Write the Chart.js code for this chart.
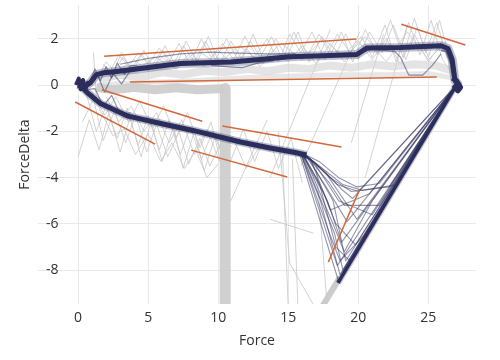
<!DOCTYPE html>
<html>
<head>
<meta charset="utf-8">
<title>Force vs ForceDelta</title>
<script src="https://cdn.jsdelivr.net/npm/chart.js"></script>
<style>
  html, body { margin: 0; padding: 0; background: #fff; }
  #wrap { width: 500px; height: 360px; }
</style>
</head>
<body>
<div id="wrap"><canvas id="chart"></canvas></div>
<script>
// tick labels
var xTicks = [0, 5, 10, 15, 20, 25];
var yTicks = [-8, -6, -4, -2, 0, 2];

// dark loop: main branches
var upperX = [0.6, 0.9, 1.3, 1.8, 2.6, 4.6, 7.3, 10.9, 13.0, 15.1, 17.5, 19.9, 20.6, 23.0, 25.9, 26.4, 26.7, 26.9, 27.2];
var upperY = [0.0, 0.12, 0.45, 0.53, 0.58, 0.73, 0.93, 1.0, 1.1, 1.22, 1.27, 1.32, 1.6, 1.62, 1.7, 1.58, 1.1, 0.2, -0.05];
var lowerX = [0.0, 0.3, 0.7, 1.6, 3.5, 5.9, 8.2, 11.6, 13.7, 15.4, 16.3];
var lowerY = [0.0, -0.1, -0.35, -0.8, -1.33, -1.66, -1.96, -2.46, -2.72, -2.9, -3.02];
var returnX = [18.55, 27.0];
var returnY = [-8.55, 0.0];
var originX = [-0.15, 0.05, 0.2, 0.35, 0.5, 0.7, 0.9];
var originY = [0.0, 0.28, -0.18, 0.22, -0.22, 0.1, 0.0];
var apexX = [26.7, 27.0, 27.3, 27.1, 26.8];
var apexY = [0.3, 0.2, -0.1, -0.25, 0.0];

// dark loop: single thin traces
var aboveX = [3.0, 5.0, 7.3, 9.4, 11.5, 13.5, 15.5];
var aboveY = [0.9, 1.15, 1.35, 1.42, 1.38, 1.35, 1.35];
var dipX = [19.5, 21.0, 22.6, 23.0, 23.6, 24.6, 25.3, 25.9];
var dipY = [1.3, 1.55, 1.45, 1.21, 0.43, 0.43, 0.86, 1.35];
var belowX = [9.5, 10.5, 11.7, 12.8, 14.0];
var belowY = [0.85, 0.8, 0.75, 0.95, 1.05];
var jag1X = [0.8, 1.2, 1.6, 2.0, 2.4, 2.8, 3.3, 3.8, 4.5];
var jag1Y = [0.1, 0.7, 0.2, 0.8, 0.3, 0.95, 0.45, 0.85, 0.8];
var jag2X = [0.9, 1.4, 1.9, 2.5, 3.1, 3.7, 4.3];
var jag2Y = [0.0, 0.4, -0.3, 0.5, 0.05, 0.6, 0.65];
var jag3X = [0.6, 1.2, 1.8, 2.4, 3.0, 3.8];
var jag3Y = [-0.2, -0.15, -0.9, -0.45, -1.25, -1.2];
var dropX = [25.9, 26.3, 26.6, 26.8, 27.1];
var dropY = [1.5, 1.45, 0.9, 0.2, 0.0];

// dark loop: fan below Force 16
var fan1X = [15.4, 16.2, 17.2, 18.6, 19.9, 21.5, 27.0];
var fan1Y = [-2.9, -3.0, -3.3, -4.0, -4.4, -4.25, 0.0];
var fan2X = [15.4, 16.3, 17.4, 18.8, 19.6, 27.0];
var fan2Y = [-2.9, -3.05, -3.6, -4.5, -4.9, 0.0];
var fan3X = [15.4, 16.2, 17.6, 19.2, 27.0];
var fan3Y = [-2.9, -3.0, -4.3, -5.9, 0.0];
var fan4X = [15.4, 16.0, 17.8, 18.8, 27.0];
var fan4Y = [-2.9, -3.0, -5.0, -6.8, 0.0];
var fan5X = [15.4, 15.9, 18.5, 27.0];
var fan5Y = [-2.9, -2.95, -7.8, 0.0];
var fan6X = [15.4, 15.8, 18.6, 27.0];
var fan6Y = [-2.9, -2.95, -8.5, 0.0];
var fan7X = [15.4, 16.1, 18.2, 19.0, 21.0, 27.0];
var fan7Y = [-2.9, -3.0, -6.0, -7.2, -5.0, 0.0];
var fan8X = [15.4, 16.4, 18.0, 19.5, 22.2, 27.0];
var fan8Y = [-2.9, -3.1, -4.0, -4.6, -4.4, 0.0];
var fan9X = [15.4, 16.0, 18.3, 18.9, 27.0];
var fan9Y = [-2.9, -3.0, -6.4, -8.0, 0.0];
var fan10X = [15.4, 16.6, 18.0, 20.8, 27.0];
var fan10Y = [-2.9, -3.2, -5.4, -4.7, 0.0];
var fan11X = [15.4, 16.1, 17.5, 18.4, 19.8, 27.0];
var fan11Y = [-2.9, -3.0, -4.6, -6.0, -6.9, 0.0];
var fan12X = [15.4, 16.3, 17.9, 19.0, 21.5, 27.0];
var fan12Y = [-2.9, -3.05, -4.2, -5.2, -5.2, 0.0];
var fan13X = [15.4, 15.9, 18.0, 18.7, 20.4, 27.0];
var fan13Y = [-2.9, -2.95, -6.5, -7.6, -6.5, 0.0];
var fan14X = [15.4, 16.5, 17.8, 19.9, 27.0];
var fan14Y = [-2.9, -3.15, -3.9, -5.8, 0.0];
var fan15X = [15.4, 16.0, 17.2, 18.4, 19.4, 27.0];
var fan15Y = [-2.9, -3.0, -4.2, -7.0, -7.6, 0.0];
var fan16X = [15.4, 16.2, 17.0, 18.6, 21.0, 27.0];
var fan16Y = [-2.9, -3.0, -3.5, -5.0, -5.6, 0.0];
var fan17X = [15.4, 16.7, 18.5, 20.0, 27.0];
var fan17Y = [-2.9, -3.25, -4.3, -4.6, 0.0];
var fan18X = [15.4, 15.9, 17.3, 18.7, 22.0, 27.0];
var fan18Y = [-2.9, -2.95, -5.0, -8.2, -4.9, 0.0];
var fan19X = [15.4, 16.4, 18.2, 19.1, 27.0];
var fan19Y = [-2.9, -3.1, -5.0, -7.6, 0.0];
var fan20X = [15.4, 16.8, 18.9, 20.3, 22.8, 27.0];
var fan20Y = [-2.9, -3.3, -4.3, -4.55, -4.3, 0.0];

// grey background runs
var shelfX = [1.3, 2.5, 4.0, 5.5, 7.0, 8.5, 10.45];
var shelfY = [-0.1, -0.2, -0.1, -0.2, -0.12, -0.2, -0.15];
var columnX = [10.5, 10.5];
var columnY = [-0.15, -9.8];
var band1X = [1.5, 3, 4.5, 6, 7.5, 9, 10.5, 12, 13.5, 15, 16.5, 18, 19.5, 21, 22.5, 24, 25.5, 26.8];
var band1Y = [0.25, 0.45, 0.35, 0.55, 0.45, 0.62, 0.55, 0.7, 0.6, 0.75, 0.7, 0.85, 0.75, 0.9, 0.8, 0.9, 0.85, 0.6];
var band2X = [1.5, 4, 7, 10, 13, 16, 19, 22, 25, 26.8];
var band2Y = [0.0, 0.1, 0.15, 0.25, 0.35, 0.4, 0.45, 0.45, 0.5, 0.3];
var tailX = [18.7, 17.3];
var tailY = [-8.3, -9.7];

var z1X = [1.4, 2.0, 2.6, 3.2, 3.8, 4.5, 5.2, 6.0, 6.8, 7.5, 8.3, 9.1, 9.8, 10.6, 11.5, 12.3, 13.0, 13.8, 14.6, 15.4, 16.3, 17.2, 18.0, 18.8, 19.6, 20.5, 21.4, 22.3, 23.2, 24.0, 24.8, 25.6, 26.3, 27.0];
var z1Y = [0.3, 1.0, 0.6, 1.2, 0.7, 1.35, 0.8, 1.5, 0.9, 1.7, 1.0, 1.9, 1.1, 2.0, 1.0, 1.9, 1.2, 2.1, 1.1, 2.3, 1.2, 2.2, 1.3, 2.3, 1.0, 2.4, 1.3, 2.8, 1.2, 2.9, 1.4, 2.7, 1.3, 0.5];
var z2X = [2.2, 2.9, 3.6, 4.3, 5.0, 5.8, 6.5, 7.2, 8.0, 8.8, 9.5, 10.3, 11.1, 11.9, 12.7, 13.5, 14.3, 15.1, 15.9, 16.7, 17.6, 18.5, 19.3, 20.2, 21.0, 21.9, 22.7, 23.6, 24.4, 25.2, 26.0, 26.8];
var z2Y = [0.5, 1.3, 0.8, 1.4, 0.9, 1.6, 1.0, 1.8, 0.9, 2.0, 1.2, 1.8, 1.1, 2.1, 1.3, 2.0, 1.0, 2.2, 1.4, 2.3, 1.1, 2.2, 1.5, 2.1, 1.2, 2.6, 1.0, 2.7, 1.3, 2.8, 1.1, 0.4];
var z3X = [3, 4, 5, 6, 7, 8, 9, 10, 11, 12, 13, 14, 15, 16, 17, 18, 19, 20, 21, 22, 23, 24, 25, 26];
var z3Y = [0.7, 1.1, 0.6, 1.2, 0.7, 1.4, 0.8, 1.5, 0.9, 1.6, 0.8, 1.5, 1.0, 1.7, 0.9, 1.8, 1.0, 1.9, 1.1, 2.0, 0.9, 2.2, 1.0, 1.9];
var z4X = [1.8, 2.4, 3.1, 3.9, 4.7, 5.4, 6.2, 7.0, 7.7, 8.5, 9.3, 10.1, 10.9, 11.7, 12.5, 13.3, 14.1, 14.9, 15.7, 16.5, 17.4, 18.3, 19.1, 20.0, 20.8, 21.7, 22.5, 23.4, 24.2, 25.0, 25.8, 26.6];
var z4Y = [0.9, 0.4, 1.4, 0.6, 1.5, 0.7, 1.7, 0.8, 1.9, 1.0, 2.1, 0.9, 1.9, 1.1, 2.2, 1.0, 2.0, 1.2, 2.3, 1.0, 2.1, 1.2, 2.2, 1.1, 2.3, 1.4, 2.6, 1.1, 2.5, 1.2, 2.8, 1.0];
var z5X = [4, 5.5, 7, 8.5, 10, 11.5, 13, 14.5, 16, 17.5, 19, 20.5, 22, 23.5, 25, 26.5];
var z5Y = [0.6, 1.2, 0.7, 1.5, 0.9, 1.7, 1.0, 1.8, 1.1, 2.0, 1.2, 2.1, 1.0, 2.3, 1.1, 2.0];

var l1X = [0.0, 0.8, 1.5, 2.2, 3.0, 3.7, 4.5, 5.2, 6.0, 6.8, 7.5, 8.3, 9.0, 9.8, 10.5];
var l1Y = [-3.1, -1.5, -2.8, -1.2, -2.9, -1.4, -3.1, -1.6, -3.3, -1.8, -3.6, -2.0, -3.7, -2.2, -3.2];
var l2X = [0.6, 1.3, 2.0, 2.8, 3.5, 4.3, 5.0, 5.8, 6.5, 7.3, 8.0, 8.8, 9.6, 10.3, 11.0];
var l2Y = [-0.4, -2.0, -0.9, -2.3, -1.0, -2.6, -1.3, -2.8, -1.5, -3.0, -1.8, -3.2, -2.0, -3.0, -2.6];
var l3X = [1.0, 1.9, 2.7, 3.6, 4.4, 5.3, 6.1, 7.0, 7.8, 8.7, 9.5, 10.4];
var l3Y = [-0.3, -1.3, -0.5, -1.6, -0.7, -1.9, -0.9, -2.3, -1.2, -2.7, -1.6, -3.9];
var l4X = [1.5, 2.5, 3.3, 4.1, 5.0, 5.9, 6.7, 7.6, 8.4, 9.2, 10.0];
var l4Y = [-1.0, -2.2, -1.9, -3.0, -2.1, -3.3, -2.5, -3.6, -2.8, -4.0, -3.4];
var l5X = [10.8, 11.8, 12.6, 13.5, 14.3, 15.2, 16.0];
var l5Y = [-3.4, -1.9, -3.3, -2.0, -3.6, -2.3, -4.2];
var l6X = [0.3, 1.1, 1.8, 2.6, 3.4, 4.1, 4.9, 5.6, 6.4, 7.2, 7.9, 8.7, 9.4, 10.2];
var l6Y = [-1.6, -0.6, -2.4, -1.1, -2.5, -1.3, -2.9, -1.7, -3.1, -2.0, -3.4, -2.3, -3.5, -2.5];
var l7X = [2.0, 2.9, 3.8, 4.7, 5.6, 6.5, 7.4, 8.3, 9.2, 10.1, 11.0, 12.0, 13.0];
var l7Y = [-0.5, -1.6, -0.9, -2.0, -1.2, -2.5, -1.5, -3.0, -1.9, -3.3, -2.2, -3.6, -2.6];
var postX = [1.1, 1.3];
var postY = [1.4, -0.5];

var s1X = [14.6, 15.0], s1Y = [-3.0, -9.7];
var s2X = [15.3, 15.7], s2Y = [-3.2, -9.7];
var s3X = [13.7, 18.0], s3Y = [-4.0, 2.4];
var s4X = [15.9, 20.1], s4Y = [-3.5, 2.3];
var s5X = [14.3, 15.1, 17.0], s5Y = [-2.0, -7.7, -9.7];
var s6X = [13.7, 16.8], s6Y = [-5.8, -6.4];
var s7X = [10.9, 13.5], s7Y = [-5.0, -1.5];
var s8X = [17.0, 17.8], s8Y = [-3.5, -9.7];
var s9X = [19.5, 21.8], s9Y = [-2.5, 2.2];
var s10X = [20.5, 23.5], s10Y = [-4.0, 2.6];

// fitted slopes
var o1X = [1.86, 19.86], o1Y = [1.25, 1.99];
var o2X = [3.7, 25.6], o2Y = [0.13, 0.35];
var o3X = [1.7, 8.86], o3Y = [-0.2, -1.56];
var o4X = [-0.2, 5.5], o4Y = [-0.73, -2.55];
var o5X = [10.3, 18.8], o5Y = [-1.77, -2.68];
var o6X = [8.07, 14.93], o6Y = [-2.81, -3.97];
var o7X = [23.07, 27.64], o7Y = [2.63, 1.73];
var o8X = [20.07, 17.86], o8Y = [-4.54, -7.65];

var NAVY = '#2b2d5c';
var NAVY_T = 'rgba(43,45,92,0.5)';
var NAVY_HALO = 'rgba(43,45,92,0.3)';
var GREY = 'rgba(200,200,200,0.8)';
var ORANGE = '#d2693c';

function pts(xs, ys) {
    return xs.map(function(x, i) { return {x: x, y: ys[i]}; });
}

function series(xs, ys, color, width, order) {
    return {
        data: pts(xs, ys),
        borderColor: color,
        borderWidth: width,
        showLine: true,
        pointRadius: 0,
        fill: false,
        tension: 0,
        order: order,
        borderJoinStyle: 'round'
    };
}

var oranges = [[o1X, o1Y], [o2X, o2Y], [o3X, o3Y], [o4X, o4Y], [o5X, o5Y], [o6X, o6Y], [o7X, o7Y], [o8X, o8Y]];
var fans = [[fan1X, fan1Y], [fan2X, fan2Y], [fan3X, fan3Y], [fan4X, fan4Y], [fan5X, fan5Y],
            [fan6X, fan6Y], [fan7X, fan7Y], [fan8X, fan8Y], [fan9X, fan9Y], [fan10X, fan10Y],
            [fan11X, fan11Y], [fan12X, fan12Y], [fan13X, fan13Y], [fan14X, fan14Y], [fan15X, fan15Y],
            [fan16X, fan16Y], [fan17X, fan17Y], [fan18X, fan18Y], [fan19X, fan19Y], [fan20X, fan20Y]];
var thinNavy = [[aboveX, aboveY], [dipX, dipY], [belowX, belowY], [jag1X, jag1Y], [jag2X, jag2Y], [jag3X, jag3Y]];
var thinGrey = [[z1X, z1Y], [z2X, z2Y], [z3X, z3Y], [z4X, z4Y], [z5X, z5Y],
                [l1X, l1Y], [l2X, l2Y], [l3X, l3Y], [l4X, l4Y], [l5X, l5Y], [l6X, l6Y], [l7X, l7Y],
                [postX, postY], [s1X, s1Y], [s2X, s2Y], [s3X, s3Y], [s4X, s4Y], [s5X, s5Y],
                [s6X, s6Y], [s7X, s7Y], [s8X, s8Y], [s9X, s9Y], [s10X, s10Y]];

var datasets = [];
oranges.forEach(function(s) { datasets.push(series(s[0], s[1], ORANGE, 1.5, 0)); });

datasets.push(series(upperX, upperY, NAVY, 5, 1));
datasets.push(series(lowerX, lowerY, NAVY, 5, 1));
datasets.push(series(returnX, returnY, NAVY, 3.5, 1));
datasets.push(series(originX, originY, NAVY, 4, 1));
datasets.push(series(apexX, apexY, NAVY, 5, 1));

datasets.push(series(upperX, upperY, NAVY_HALO, 9, 2));
datasets.push(series(lowerX, lowerY, NAVY_HALO, 8, 2));
datasets.push(series(returnX, returnY, NAVY_HALO, 6, 2));
datasets.push(series(dropX, dropY, NAVY_T, 2, 2));
thinNavy.forEach(function(s) { datasets.push(series(s[0], s[1], NAVY_T, 1.2, 2)); });
fans.forEach(function(s) { datasets.push(series(s[0], s[1], NAVY_T, 1.1, 2)); });

datasets.push(series(shelfX, shelfY, 'rgba(205,205,205,0.95)', 9, 3));
datasets.push(series(columnX, columnY, 'rgba(205,205,205,0.95)', 11, 3));
datasets.push(series(band1X, band1Y, 'rgba(210,210,210,0.6)', 8, 3));
datasets.push(series(band2X, band2Y, 'rgba(215,215,215,0.6)', 5, 3));
datasets.push(series(tailX, tailY, 'rgba(200,200,200,0.95)', 6, 3));
thinGrey.forEach(function(s) { datasets.push(series(s[0], s[1], GREY, 1, 3)); });

var font = { family: 'Open Sans', size: 14 };

new Chart(document.getElementById('chart'), {
    type: 'scatter',
    data: { datasets: datasets },
    options: {
        responsive: true,
        maintainAspectRatio: false,
        animation: false,
        layout: { padding: { left: 16.6, right: 24, top: 5, bottom: 10.6 } },
        plugins: { legend: { display: false }, tooltip: { enabled: false } },
        scales: {
            x: {
                type: 'linear',
                min: -2.86,
                max: 28.4,
                grid: { color: '#e9e9e9', drawTicks: false },
                border: { display: false },
                ticks: { font: font, color: '#333', padding: 6 },
                title: { display: true, text: 'Force', font: font, color: '#333', padding: 0 },
                afterBuildTicks: function(s) { s.ticks = xTicks.map(function(v) { return {value: v}; }); },
                afterFit: function(s) { s.height = 45.4; s.paddingLeft = 0; s.paddingRight = 0; }
            },
            y: {
                type: 'linear',
                min: -9.46,
                max: 3.46,
                grid: { color: '#e9e9e9', drawTicks: false },
                border: { display: false },
                ticks: { font: font, color: '#333', mirror: true, crossAlign: 'far', padding: 8 },
                title: { display: true, text: 'ForceDelta', font: font, color: '#333', padding: 0 },
                afterBuildTicks: function(s) { s.ticks = yTicks.map(function(v) { return {value: v}; }); },
                afterFit: function(s) { s.width = 21.4; s.paddingTop = 0; s.paddingBottom = 0; }
            }
        }
    }
});
</script>
</body>
</html>
